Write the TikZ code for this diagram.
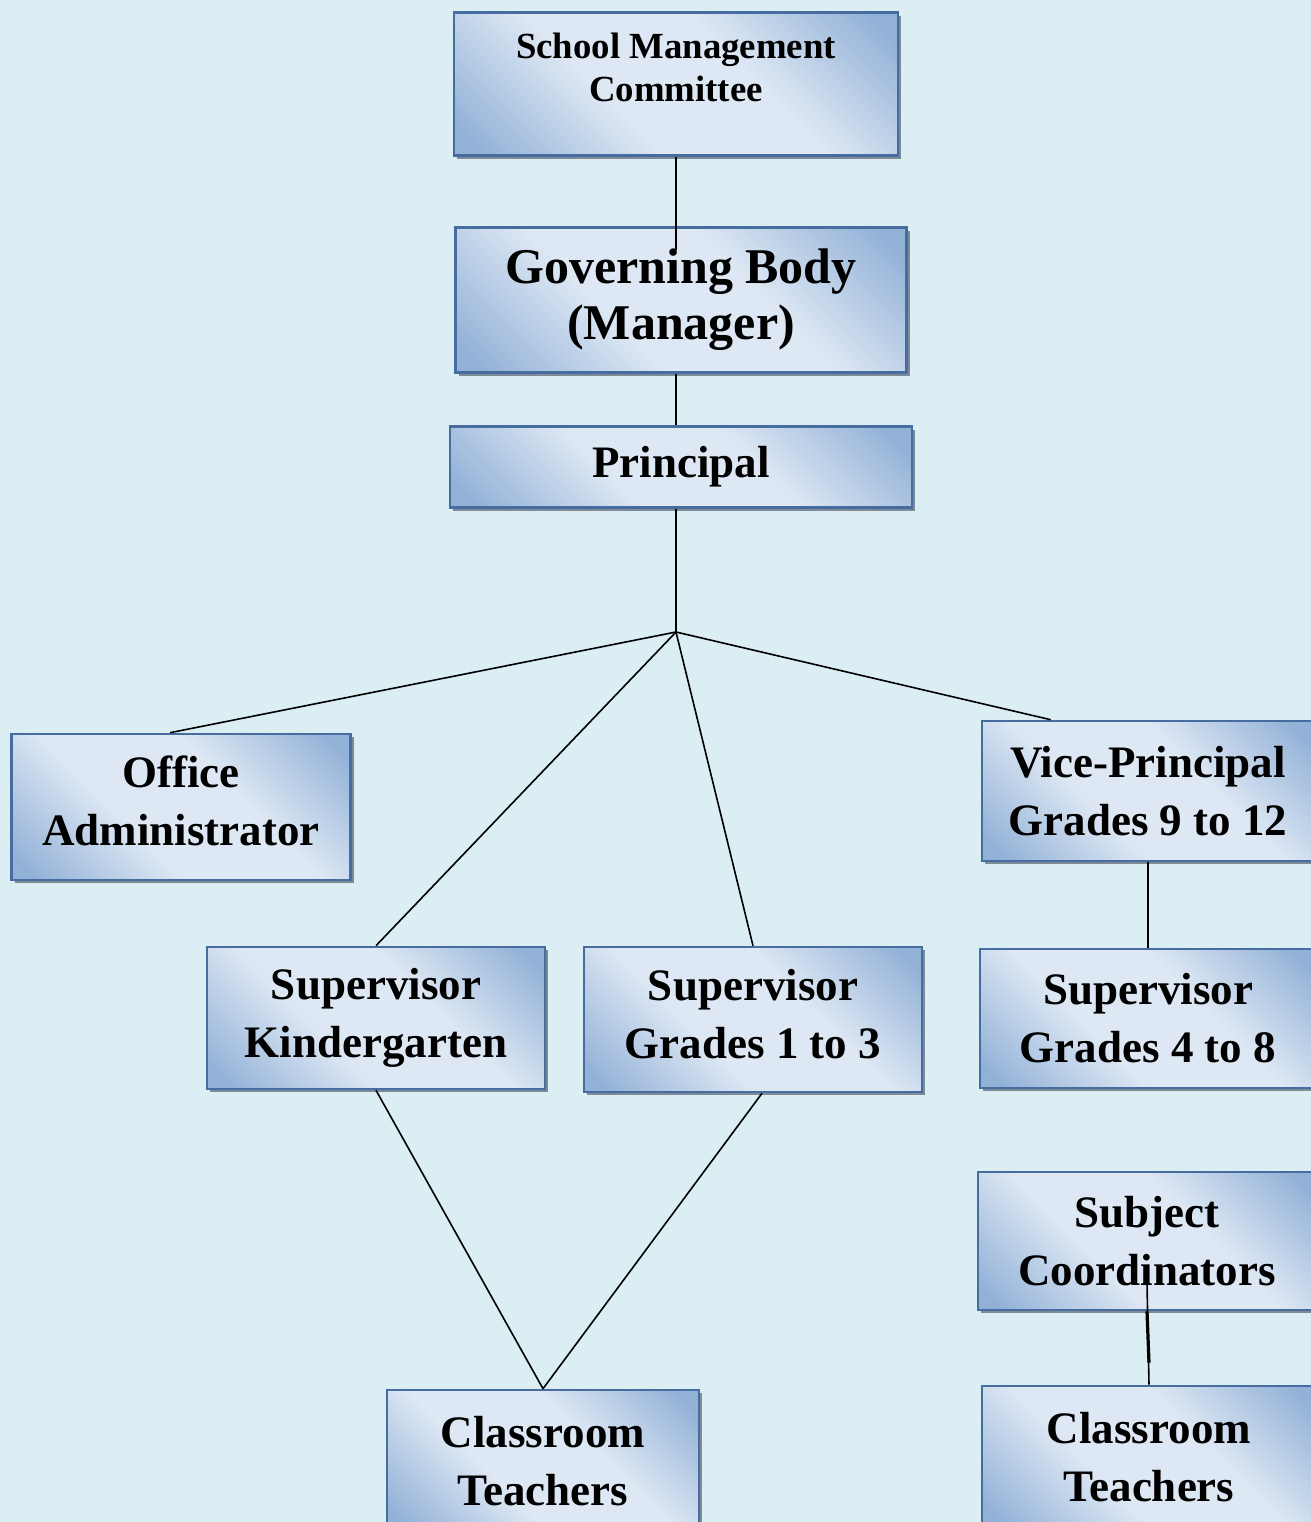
\documentclass[tikz,border=0pt]{standalone}
\usepackage{fontspec}
\setmainfont{Liberation Serif}
\usepackage{tikz}
\usetikzlibrary{positioning, shadows, calc}

\definecolor{pagebg}{RGB}{219,238,244}
\definecolor{boxline}{RGB}{70,108,160}
\definecolor{boxdark}{RGB}{146,177,215}
\definecolor{boxlight}{RGB}{222,232,244}
\definecolor{shadowgray}{RGB}{118,128,142}

\pgfdeclareverticalshading{boxsheen}{100bp}{color(0bp)=(boxdark); color(18bp)=(boxdark); color(40bp)=(boxlight); color(60bp)=(boxlight); color(82bp)=(boxdark); color(100bp)=(boxdark)}

\begin{document}
\begin{tikzpicture}[
    x=0.5pt, y=-0.5pt,
    orgbox/.style={rectangle, draw=boxline, line width=1.3pt, inner sep=0pt, align=center,
        shading=boxsheen, shading angle=-45,
        drop shadow={shadow xshift=1.6pt, shadow yshift=-1.6pt, fill=shadowgray, opacity=0.9},
        font=\fontsize{22.5}{29}\selectfont\bfseries},
    link/.style={draw=black, line width=0.8pt}
]
    \fill[pagebg] (0,0) rectangle (1311,1522);
    \clip (0,0) rectangle (1311,1522);

    \node[orgbox, minimum width=222pt, minimum height=71.5pt, text depth=17pt, font=\fontsize{18.4}{21.5}\selectfont\bfseries] (smc) at (676,84) {School Management\\Committee};
    \node[orgbox, minimum width=225.5pt, minimum height=72.5pt, font=\fontsize{25}{28}\selectfont\bfseries] (gb) at (681,300) {Governing Body\\(Manager)};
    \node[orgbox, minimum width=231pt, minimum height=40.5pt] (prin) at (681,467) {Principal};
    \coordinate (hub) at (676,632);

    \node[orgbox, minimum width=169.5pt, minimum height=73pt, text depth=6pt] (office) at (181,807) {Office\\Administrator};
    \node[orgbox, minimum width=166pt, minimum height=70pt] (vp) at (1148,791) {Vice-Principal\\Grades 9 to 12};
    \node[orgbox, minimum width=169pt, minimum height=71pt] (supk) at (376,1018) {Supervisor\\Kindergarten};
    \node[orgbox, minimum width=169pt, minimum height=72.5pt, text depth=6pt] (sup13) at (753,1019.5) {Supervisor\\Grades 1 to 3};
    \node[orgbox, minimum width=168pt, minimum height=69.5pt] (sup48) at (1148,1018.5) {Supervisor\\Grades 4 to 8};
    \node[orgbox, minimum width=169pt, minimum height=69pt] (subj) at (1147,1241) {Subject\\Coordinators};
    \node[orgbox, minimum width=156pt, minimum height=71pt] (ctl) at (543,1461) {Classroom\\Teachers};
    \node[orgbox, minimum width=167pt, minimum height=71pt] (ctr) at (1149,1457) {Classroom\\Teachers};

    % Connectors
    \draw[link] (smc.south) -- ([yshift=-12pt]smc.south |- gb.north);
    \draw[link] (gb.south -| hub) -- (prin.north -| hub);
    \draw[link] (prin.south -| hub) -- (hub);
    \draw[link] (hub) -- ([xshift=-5.5pt]office.north);
    \draw[link] (hub) -- (supk.north);
    \draw[link] (hub) -- (sup13.north);
    \draw[link] (hub) -- ($(vp.north west)+(70,0)$);
    \draw[link] (vp.south) -- (sup48.north);
    \draw[link] (supk.south) -- (ctl.north);
    \draw[link] ([xshift=4.5pt]sup13.south) -- (ctl.north);
    \draw[link] ([yshift=14pt]subj.south) -- (ctr.north);
    \draw[link, line width=1.6pt] (subj.south) -- ([yshift=11pt]ctr.north);
\end{tikzpicture}
\end{document}
